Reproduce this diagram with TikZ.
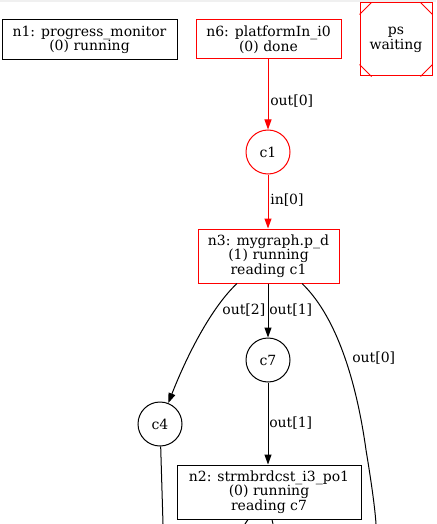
\documentclass[tikz,border=0pt]{standalone}
\usepackage{fontspec}
\setmainfont{DejaVu Serif}
\usetikzlibrary{arrows.meta,calc}
\begin{document}
\begin{tikzpicture}[x=0.75pt,y=-0.75pt,
  every node/.style={font=\fontsize{10.5}{11}\selectfont},
  box/.style={draw,line width=0.75pt,rectangle,align=center,inner sep=0pt},
  chan/.style={draw,line width=0.75pt,circle,inner sep=0pt,minimum size=44*0.75pt},
  edge/.style={line width=0.75pt,-{Triangle[length=7.5pt,width=5.25pt]}},
  plain/.style={line width=0.75pt},
  lbl/.style={inner sep=0pt},
  hot/.style={draw=red,red}]
  \useasboundingbox (0,0) rectangle (436,524);
  \fill[black!6] (0,0) rectangle (436,2);

  % process and channel nodes
  \node[box,minimum width=175*0.75pt,minimum height=40*0.75pt] (n1) at (89.5,40)
    {n1: progress\_monitor\\(0) running};
  \node[box,draw=red,minimum width=145*0.75pt,minimum height=39*0.75pt] (n6) at (268.5,39.5)
    {n6: platformIn\_i0\\(0) done};
  \node[box,draw=red,minimum width=72*0.75pt,minimum height=73*0.75pt] (ps) at (396,39.5)
    {ps\\waiting};
  \draw[red,line width=0.75pt]
    ($(ps.north west)+(12,0)$) -- ($(ps.north west)+(0,12)$)
    ($(ps.north east)+(-12,0)$) -- ($(ps.north east)+(0,12)$)
    ($(ps.south west)+(12,0)$) -- ($(ps.south west)+(0,-12)$)
    ($(ps.south east)+(-12,0)$) -- ($(ps.south east)+(0,-12)$);
  \node[chan,draw=red] (c1) at (268,152) {c1};
  \node[box,draw=red,minimum width=141*0.75pt,minimum height=54*0.75pt] (n3) at (268.5,256)
    {n3: mygraph.p\_d\\(1) running\\reading c1};
  \node[chan] (c7) at (268,360) {c7};
  \node[chan] (c4) at (160,424) {c4};
  \node[box,minimum width=184*0.75pt,minimum height=54*0.75pt] (n2) at (269,492)
    {n2: strmbrdcst\_i3\_po1\\(0) running\\reading c7};

  % free ends running off the bottom
  \coordinate (c4end) at (163,524);
  \coordinate (n3end) at (376,524);
  \coordinate (n2endA) at (245,524);
  \coordinate (n2endB) at (273,524);

  % connectors
  \draw[edge,red] (n6.south -| c1) -- (c1);
  \node[lbl,anchor=west] (l1) at (270,101) {out[0]};
  \draw[edge,red] (c1) -- (n3.north -| c1);
  \node[lbl,anchor=west] (l2) at (270,200) {in[0]};

  \draw[edge] (n3.south -| c7) -- (c7);
  \node[lbl,anchor=west] (l3) at (269,310) {out[1]};
  \draw[edge] ($(n3.south)+(-31.5,0)$) .. controls (214,305) and (190,348) .. (c4);
  \node[lbl,anchor=east] (l4) at (265.5,310) {out[2]};
  \draw[plain] ($(n3.south)+(33.5,0)$) .. controls (340,320) and (358,392) .. (366,450)
    .. controls (371,480) and (375,508) .. (n3end);
  \node[lbl,anchor=west] (l5) at (352,358) {out[0]};

  \draw[edge] (c7) -- (n2.north -| c7);
  \node[lbl,anchor=west] (l6) at (269,423) {out[1]};

  \draw[plain] (c4) -- (c4end);
  \draw[plain] ($(n2.south)+(-21,0)$) -- (n2endA);
  \draw[plain] ($(n2.south)+(3,0)$) -- (n2endB);
\end{tikzpicture}
\end{document}
